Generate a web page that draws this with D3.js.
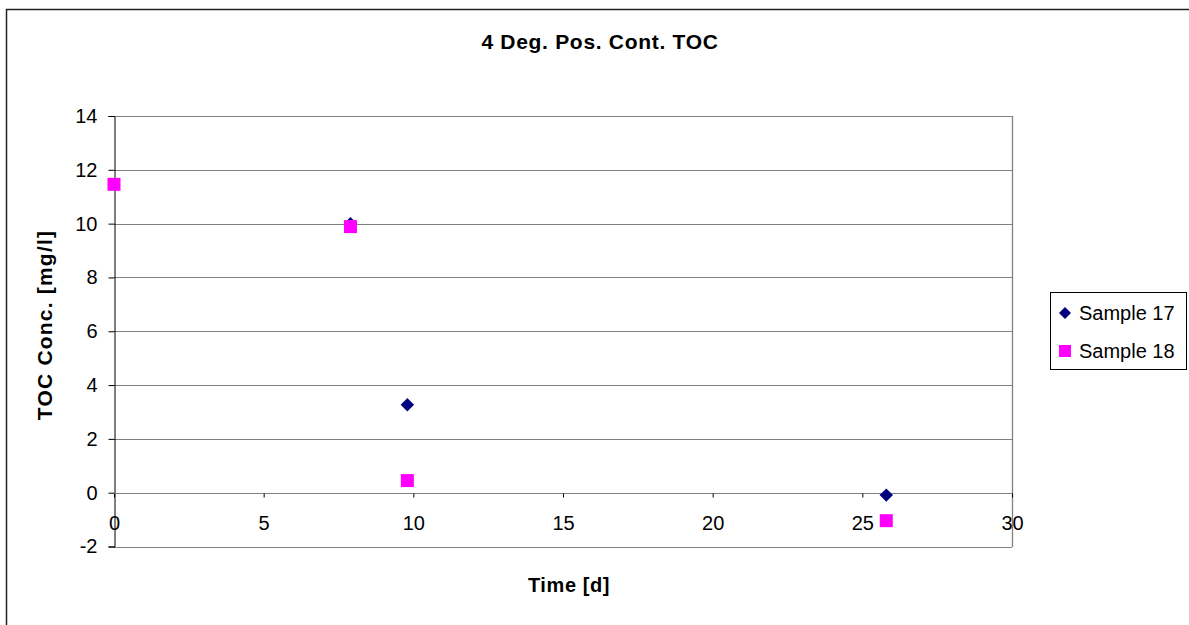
<!DOCTYPE html>
<html><head><meta charset="utf-8">
<script src="https://cdn.jsdelivr.net/npm/d3@7"></script>
<style>body{margin:0;background:#fff}svg{display:block;font-family:"Liberation Sans",Arial,sans-serif}</style>
</head><body>
<svg id="c" width="1189" height="625"></svg>
<script>
const title = "4 Deg. Pos. Cont. TOC";
const xLabel = "Time [d]";
const yLabel = "TOC Conc. [mg/l]";
const seriesNames = ["Sample 17", "Sample 18"];
const sample17X = [7.9, 9.8, 25.8];
const sample17Y = [10.0, 3.27, -0.09];
const sample18X = [0, 7.9, 9.8, 25.8];
const sample18Y = [11.46, 9.89, 0.45, -1.04];
const xTicks = [0, 5, 10, 15, 20, 25, 30];
const yTicks = [-2, 0, 2, 4, 6, 8, 10, 12, 14];

const svg = d3.select("#c");
const L = 114, R = 1012, T = 116, B = 546.5;
const x = d3.scaleLinear().domain([0, 30]).range([L, R]);
const y = d3.scaleLinear().domain([-2, 14]).range([B, T]);
const FONT = "Liberation Sans, Arial, sans-serif";

// outer border
svg.append("rect").attr("x", 6.5).attr("y", 9.5).attr("width", 1200).attr("height", 700)
  .attr("fill", "none").attr("stroke", "#222").attr("stroke-width", 1.5);

// gridlines
svg.append("g").selectAll("line").data(yTicks).join("line")
  .attr("x1", L).attr("x2", R).attr("y1", d => Math.round(y(d)) + 0.5).attr("y2", d => Math.round(y(d)) + 0.5)
  .attr("stroke", "#808080").attr("stroke-width", 1);
// plot border (right)
svg.append("line").attr("x1", R + 0.5).attr("x2", R + 0.5).attr("y1", T).attr("y2", B + 0.5)
  .attr("stroke", "#808080").attr("stroke-width", 1.3);

// y axis
const yAxis = d3.axisLeft(y).tickValues(yTicks).tickSize(6).tickPadding(11).tickFormat(d3.format("d"));
const gy = svg.append("g").attr("transform", `translate(${L + 0.5},0)`).call(yAxis);
gy.select(".domain").attr("stroke", "#000");
gy.selectAll(".tick line").attr("stroke", "#000");
gy.selectAll("text").attr("font-size", 20).attr("fill", "#000").attr("font-family", FONT).text(d => d < 0 ? "-" + Math.abs(d) : d);

// x axis at y=0
const xAxis = d3.axisBottom(x).tickValues(xTicks).tickSize(4).tickPadding(18).tickFormat(d3.format("d"));
const gx = svg.append("g").attr("transform", `translate(0,${Math.round(y(0)) + 0.5})`).call(xAxis);
gx.select(".domain").attr("stroke", "#808080").attr("d", `M${L},0H${R}`);
gx.selectAll(".tick line").attr("stroke", "#000");
gx.selectAll("text").attr("font-size", 20).attr("fill", "#000").attr("font-family", FONT);

// points
const d17 = sample17X.map((v, i) => [v, sample17Y[i]]);
const d18 = sample18X.map((v, i) => [v, sample18Y[i]]);
const diamond = "M0,-6.7L6.7,0L0,6.7L-6.7,0Z";
svg.append("g").selectAll("path").data(d17).join("path")
  .attr("d", diamond).attr("transform", d => `translate(${x(d[0])},${y(d[1])})`).attr("fill", "#000080");
svg.append("g").selectAll("rect").data(d18).join("rect")
  .attr("x", d => x(d[0]) - 6.5).attr("y", d => y(d[1]) - 6.5).attr("width", 13).attr("height", 13).attr("fill", "#ff00ff");

// title & labels
svg.append("text").attr("x", 600).attr("y", 49).attr("text-anchor", "middle")
  .attr("font-size", 21).attr("letter-spacing", 0.7).attr("font-weight", "bold").text(title);
svg.append("text").attr("x", 569).attr("y", 592).attr("text-anchor", "middle")
  .attr("font-size", 20).attr("letter-spacing", 0.6).attr("font-weight", "bold").text(xLabel);
svg.append("text").attr("transform", "translate(52,325) rotate(-90)").attr("text-anchor", "middle")
  .attr("font-size", 21).attr("letter-spacing", 1.2).attr("font-weight", "bold").text(yLabel);

// legend
const lg = svg.append("g");
lg.append("rect").attr("x", 1050.5).attr("y", 292.5).attr("width", 136).attr("height", 77)
  .attr("fill", "#fff").attr("stroke", "#000").attr("stroke-width", 1);
const colors = ["#000080", "#ff00ff"];
seriesNames.forEach((n, i) => {
  const cy = 313 + i * 38;
  if (i === 0) lg.append("path").attr("d", "M0,-6L6,0L0,6L-6,0Z").attr("transform", `translate(1065,${cy})`).attr("fill", colors[i]);
  else lg.append("rect").attr("x", 1059).attr("y", cy - 6).attr("width", 12).attr("height", 12).attr("fill", colors[i]);
  lg.append("text").attr("x", 1079).attr("y", cy + 7).attr("font-size", 20).attr("font-family", FONT).text(n);
});
</script>
</body></html>
